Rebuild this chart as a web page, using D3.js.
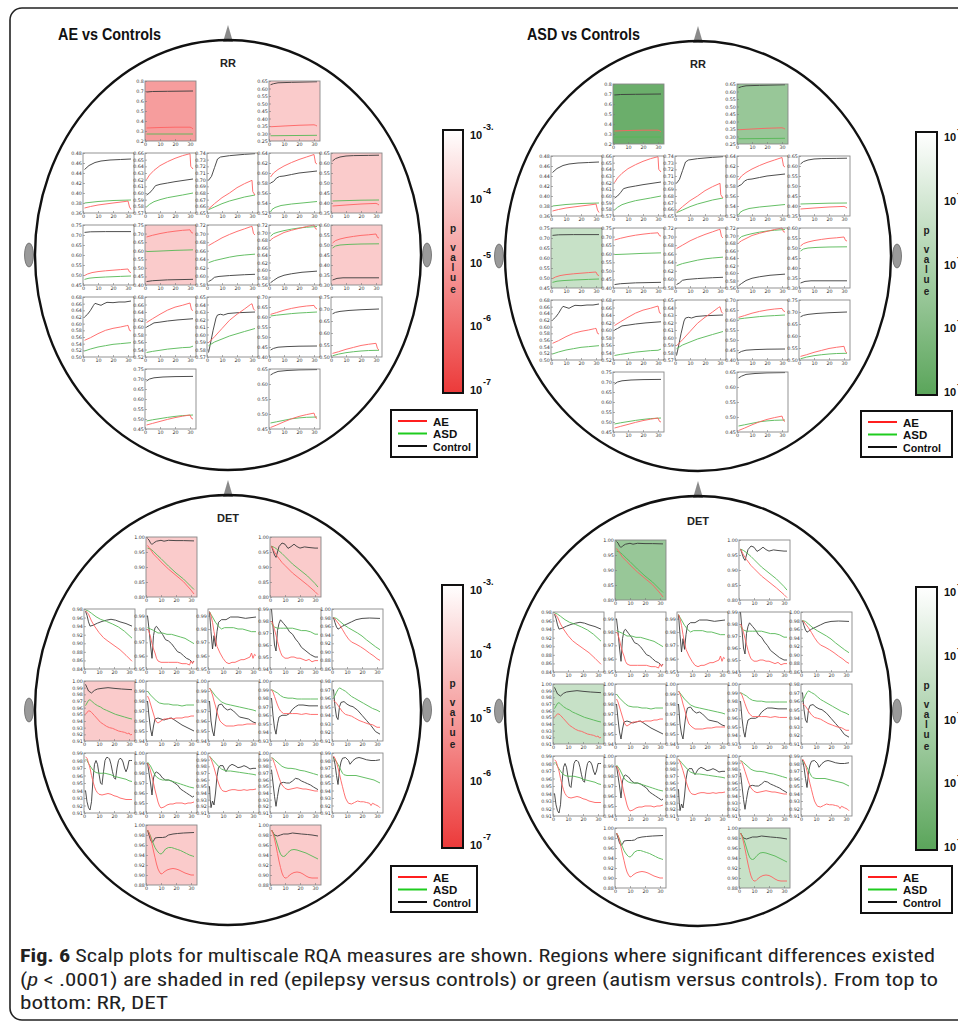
<!DOCTYPE html>
<html><head><meta charset="utf-8">
<script src="https://cdn.jsdelivr.net/npm/d3@7"></script>
<style>body{margin:0;background:#fff}svg{display:block}</style>
</head><body><svg id="c" width="958" height="1026"></svg>
<script>
// ---------------- DATA ----------------
const electrodes = ["Fp1","Fp2","F7","F3","Fz","F4","F8","T3","C3","Cz","C4","T4","T5","P3","Pz","P4","T6","O1","O2"];
const xTicks = [0,10,20,30];
const xDomain = [0,34];
const seriesNames = ["AE","ASD","Control"];
const cbarExponents = [-3,-4,-5,-6,-7];

// y domains [min,max,tickStep]
const rrDomains = [[0.2,0.8,0.1],[0.25,0.65,0.05],[0.36,0.48,0.02],[0.57,0.66,0.01],[0.65,0.74,0.01],[0.52,0.64,0.02],[0.35,0.65,0.05],
 [0.45,0.75,0.05],[0.40,0.75,0.05],[0.58,0.72,0.02],[0.56,0.72,0.02],[0.30,0.60,0.05],
 [0.50,0.68,0.02],[0.52,0.68,0.02],[0.57,0.65,0.01],[0.40,0.70,0.05],[0.50,0.75,0.05],[0.45,0.75,0.05],[0.45,0.65,0.05]];
const detDomains = [[0.80,1.00,0.05],[0.80,1.00,0.05],[0.84,0.98,0.02],[0.95,0.995,0.01],[0.95,0.995,0.01],[0.94,0.99,0.01],[0.86,1.00,0.02],
 [0.91,1.00,0.01],[0.94,1.00,0.01],[0.94,1.00,0.01],[0.93,1.00,0.01],[0.91,0.98,0.01],
 [0.91,0.99,0.01],[0.94,1.00,0.01],[0.91,1.00,0.01],[0.91,1.00,0.01],[0.91,0.99,0.01],[0.88,1.00,0.02],[0.88,1.00,0.02]];

const rrControl = [
 [[1,.69],[5,.695],[15,.697],[32,.70]],
 [[1,.625],[3,.632],[6,.638],[15,.641],[32,.645]],
 [[1,.447],[4,.455],[8,.461],[12,.464],[18,.466],[25,.467],[32,.468]],
 [[1,.597],[3,.600],[5,.605],[7,.611],[10,.613],[15,.615],[20,.617],[26,.619],[32,.621]],
 [[1,.699],[3,.705],[5,.718],[7,.731],[9,.734],[15,.736],[25,.738],[32,.739]],
 [[1,.580],[3,.583],[5,.590],[7,.593],[10,.594],[15,.597],[20,.600],[26,.602],[32,.604]],
 [[1,.610],[3,.622],[6,.630],[10,.635],[15,.637],[25,.638],[32,.639]],
 [[1,.713],[5,.716],[15,.717],[32,.717]],
 [[1,.420],[5,.425],[15,.430],[32,.433]],
 [[1,.588],[3,.592],[5,.598],[8,.600],[15,.602],[25,.604],[32,.605]],
 [[1,.566],[3,.572],[6,.580],[10,.586],[15,.590],[22,.594],[32,.597]],
 [[1,.325],[4,.333],[8,.336],[20,.336],[32,.336]],
 [[1,.620],[3,.628],[5,.640],[7,.655],[8,.661],[10,.658],[12,.655],[14,.660],[16,.664],[20,.663],[24,.665],[28,.665],[32,.668]],
 [[1,.600],[3,.604],[6,.611],[10,.613],[15,.616],[22,.619],[32,.622]],
 [[1,.576],[2,.585],[4,.605],[6,.622],[7,.626],[9,.627],[11,.626],[14,.628],[20,.629],[32,.630]],
 [[1,.435],[3,.443],[6,.449],[12,.452],[20,.454],[32,.455]],
 [[1,.680],[3,.686],[6,.690],[12,.694],[20,.697],[32,.700]],
 [[1,.690],[3,.700],[6,.706],[12,.710],[20,.712],[32,.713]],
 [[1,.630],[3,.636],[6,.642],[12,.645],[20,.647],[32,.648]]
];
const rrAE = [
 [[1,.33],[10,.335],[20,.338],[30,.338],[31,.333],[32,.32]],
 [[1,.345],[10,.350],[20,.355],[30,.358],[31,.355],[32,.350]],
 [[1,.370],[5,.373],[10,.376],[20,.380],[28,.383],[30,.384],[31,.372],[32,.367]],
 [[1,.620],[3,.627],[6,.634],[10,.641],[15,.647],[20,.652],[25,.656],[30,.659],[30.5,.640],[32,.636]],
 [[1,.656],[5,.664],[10,.673],[15,.680],[20,.688],[25,.694],[30,.699],[30.5,.682],[32,.677]],
 [[1,.592],[3,.600],[6,.607],[10,.614],[15,.621],[20,.627],[25,.632],[30,.637],[31,.620],[32,.618]],
 [[1,.385],[10,.390],[20,.395],[30,.398],[31,.395],[32,.390]],
 [[1,.497],[3,.505],[6,.512],[10,.517],[15,.521],[20,.524],[25,.527],[30,.530],[31,.515],[32,.512]],
 [[1,.680],[5,.690],[10,.700],[15,.708],[20,.714],[25,.719],[30,.722],[31,.705],[32,.703]],
 [[1,.672],[5,.680],[10,.690],[15,.698],[20,.705],[25,.711],[29,.716],[30,.717],[31,.700],[32,.697]],
 [[1,.680],[3,.686],[6,.692],[10,.700],[15,.706],[20,.711],[25,.716],[29,.719],[30,.720],[31,.710],[32,.709]],
 [[1,.510],[3,.522],[6,.530],[10,.537],[15,.543],[20,.548],[25,.551],[30,.555],[31,.538],[32,.535]],
 [[1,.550],[5,.558],[10,.570],[15,.580],[20,.586],[25,.590],[29,.594],[30,.595],[31,.580],[32,.578]],
 [[1,.612],[5,.622],[10,.634],[15,.645],[20,.653],[25,.658],[30,.664],[31,.646],[32,.644]],
 [[1,.589],[5,.597],[10,.608],[15,.619],[20,.627],[25,.634],[29,.640],[30,.641],[31,.634],[32,.632]],
 [[1,.613],[5,.622],[10,.634],[15,.643],[20,.650],[25,.655],[30,.658],[31,.645],[32,.642]],
 [[1,.515],[5,.522],[10,.532],[15,.540],[20,.548],[25,.553],[30,.557],[31,.535],[32,.530]],
 [[1,.470],[5,.478],[10,.488],[15,.498],[20,.507],[25,.514],[30,.520],[31,.503],[32,.500]],
 [[1,.455],[5,.463],[10,.474],[15,.484],[20,.492],[25,.498],[30,.503],[31,.488],[32,.485]]
];
const rrASD = [
 [[1,.27],[32,.27]],
 [[1,.285],[32,.288]],
 [[1,.380],[10,.383],[20,.385],[32,.386]],
 [[1,.579],[3,.583],[6,.587],[10,.590],[15,.593],[20,.595],[25,.597],[32,.600]],
 [[1,.655],[5,.659],[10,.664],[15,.668],[20,.671],[25,.674],[32,.677]],
 [[1,.522],[2,.527],[4,.531],[8,.535],[15,.538],[22,.540],[32,.543]],
 [[1,.410],[10,.412],[20,.414],[32,.415]],
 [[1,.478],[4,.484],[8,.487],[15,.490],[25,.493],[32,.495]],
 [[1,.595],[10,.598],[20,.602],[32,.605]],
 [[1,.632],[5,.637],[10,.641],[15,.645],[20,.648],[25,.650],[32,.652]],
 [[1,.690],[3,.697],[6,.701],[10,.705],[15,.709],[20,.712],[25,.714],[32,.716]],
 [[1,.485],[3,.495],[6,.500],[12,.503],[20,.505],[32,.506]],
 [[1,.518],[5,.524],[10,.530],[15,.534],[20,.538],[25,.540],[32,.543]],
 [[1,.532],[5,.535],[10,.538],[15,.541],[20,.543],[25,.545],[30,.546],[32,.549]],
 [[1,.585],[5,.590],[10,.594],[15,.598],[20,.601],[25,.604],[32,.608]],
 [[1,.605],[5,.609],[10,.613],[15,.617],[20,.620],[25,.622],[32,.625]],
 [[1,.505],[5,.512],[10,.518],[15,.522],[20,.525],[25,.527],[32,.528]],
 [[1,.490],[5,.496],[10,.502],[15,.508],[20,.513],[25,.517],[32,.520]],
 [[1,.470],[5,.474],[10,.479],[15,.484],[20,.487],[25,.489],[32,.490]]
];

const detControl = [
 [[1,.995],[2,.99],[3,.98],[4,.975],[5,.98],[7,.986],[10,.989],[12,.986],[15,.989],[20,.988],[25,.988],[32,.987]],
 [[1,.97],[2,.955],[3,.94],[4,.932],[5,.95],[6,.968],[8,.98],[10,.976],[12,.962],[14,.968],[16,.976],[18,.968],[20,.963],[23,.967],[26,.965],[30,.963],[32,.963]],
 [[1,.975],[2,.965],[3,.95],[4,.940],[6,.942],[9,.947],[12,.951],[15,.954],[18,.956],[21,.954],[24,.950],[28,.946],[32,.940]],
 [[1,.99],[2,.98],[3,.968],[4,.958],[5,.975],[6,.981],[7,.982],[9,.979],[11,.976],[13,.972],[15,.971],[17,.969],[19,.966],[21,.963],[23,.962],[25,.960],[27,.958],[29,.957],[31,.955],[32,.956]],
 [[1,.993],[2,.978],[3,.965],[4,.975],[5,.967],[6,.978],[7,.985],[9,.987],[12,.987],[15,.989],[20,.989],[25,.988],[32,.989]],
 [[1,.99],[2,.975],[3,.96],[4,.955],[5,.972],[6,.978],[7,.981],[9,.978],[11,.975],[13,.971],[15,.969],[17,.965],[19,.962],[21,.958],[24,.955],[27,.952],[30,.950],[32,.950]],
 [[1,.980],[2,.968],[3,.958],[4,.953],[5,.955],[7,.960],[10,.965],[13,.970],[16,.975],[20,.978],[25,.979],[32,.978]],
 [[1,.995],[2,.99],[3,.985],[5,.982],[7,.986],[9,.988],[12,.989],[16,.990],[20,.989],[25,.988],[32,.987]],
 [[1,.98],[2,.965],[3,.952],[4,.945],[5,.955],[6,.962],[8,.963],[10,.962],[12,.961],[14,.962],[17,.963],[20,.960],[24,.956],[28,.953],[32,.950]],
 [[1,.98],[2,.96],[3,.95],[4,.945],[5,.958],[6,.970],[7,.976],[9,.977],[11,.973],[13,.971],[15,.972],[17,.970],[19,.967],[21,.964],[24,.963],[27,.962],[30,.959],[32,.958]],
 [[1,.98],[2,.96],[3,.945],[4,.938],[5,.950],[6,.958],[8,.960],[11,.960],[13,.962],[15,.967],[17,.970],[19,.972],[22,.972],[26,.971],[32,.971]],
 [[1,.97],[2,.95],[3,.938],[4,.935],[5,.950],[6,.955],[8,.956],[10,.953],[12,.951],[14,.950],[17,.946],[20,.940],[23,.934],[26,.928],[29,.921],[32,.918]],
 [[1,.94],[2,.925],[3,.917],[4,.914],[5,.925],[6,.955],[7,.975],[8,.980],[9,.975],[10,.962],[11,.950],[12,.948],[13,.965],[14,.980],[15,.984],[16,.984],[17,.982],[18,.975],[19,.965],[20,.957],[21,.955],[22,.970],[23,.980],[24,.983],[25,.982],[26,.978],[27,.970],[28,.965],[29,.970],[30,.980],[31,.98],[32,.98]],
 [[1,.99],[2,.98],[3,.97],[4,.958],[5,.975],[6,.980],[7,.981],[9,.979],[11,.975],[13,.973],[15,.973],[17,.972],[19,.970],[21,.968],[23,.964],[25,.962],[27,.960],[29,.958],[31,.956],[32,.957]],
 [[1,.95],[1.5,.93],[2,.918],[3,.928],[4,.922],[5,.94],[6,.965],[7,.978],[8,.981],[10,.981],[11,.976],[12,.972],[13,.976],[14,.98],[16,.983],[18,.981],[20,.978],[22,.979],[24,.981],[26,.979],[28,.976],[30,.977],[32,.977]],
 [[1,.975],[2,.955],[3,.935],[4,.92],[5,.935],[6,.948],[7,.955],[9,.956],[11,.955],[13,.955],[15,.958],[17,.962],[19,.961],[21,.958],[23,.956],[25,.954],[27,.952],[29,.949],[32,.945]],
 [[1,.985],[2,.975],[3,.96],[4,.948],[5,.968],[6,.978],[7,.983],[9,.984],[11,.980],[12,.975],[14,.980],[16,.983],[18,.984],[20,.983],[23,.981],[26,.980],[29,.980],[32,.981]],
 [[1,.99],[2,.98],[3,.97],[4,.965],[5,.968],[6,.974],[8,.975],[11,.975],[13,.976],[15,.980],[18,.982],[21,.983],[25,.984],[32,.985]],
 [[1,.99],[2,.985],[3,.98],[5,.978],[7,.980],[9,.982],[12,.982],[15,.984],[18,.983],[21,.982],[25,.981],[28,.980],[32,.978]]
];
const detAE = [
 [[1,.972],[3,.958],[5,.943],[8,.928],[10,.917],[15,.893],[20,.872],[25,.851],[30,.823],[32,.81]],
 [[1,.97],[3,.95],[5,.935],[8,.915],[10,.905],[15,.88],[20,.86],[25,.84],[30,.818],[32,.808]],
 [[1,.976],[3,.968],[5,.952],[7,.94],[10,.925],[13,.913],[16,.905],[20,.895],[24,.885],[28,.872],[32,.858]],
 [[1,.98],[2,.978],[3,.974],[4,.969],[5,.965],[6,.962],[7,.958],[8,.956],[10,.955],[12,.955],[15,.955],[18,.955],[21,.955],[24,.954],[27,.954],[29,.953],[30,.956],[31,.954],[32,.956]],
 [[1,.993],[2,.99],[3,.985],[4,.978],[5,.972],[6,.967],[8,.962],[10,.958],[12,.955],[14,.954],[16,.955],[18,.955],[20,.956],[22,.957],[24,.957],[26,.958],[28,.959],[29,.962],[30,.958],[31,.961],[32,.96]],
 [[1,.98],[2,.977],[3,.973],[4,.968],[5,.963],[6,.958],[7,.954],[8,.951],[10,.949],[12,.949],[14,.950],[16,.950],[18,.949],[20,.949],[22,.948],[24,.947],[26,.948],[28,.946],[30,.947],[32,.947]],
 [[1,.98],[2,.977],[3,.972],[5,.963],[7,.952],[9,.940],[11,.930],[13,.923],[16,.918],[19,.912],[22,.905],[25,.897],[28,.890],[30,.884],[32,.880]],
 [[1,.950],[2,.953],[3,.955],[4,.955],[5,.953],[7,.948],[9,.943],[11,.938],[13,.935],[15,.932],[17,.930],[19,.929],[21,.927],[23,.925],[25,.924],[27,.923],[29,.921],[30,.922],[31,.919],[32,.920]],
 [[1,.985],[2,.982],[3,.977],[4,.972],[5,.967],[6,.962],[7,.959],[8,.958],[10,.960],[12,.962],[14,.962],[16,.963],[18,.962],[20,.963],[22,.963],[24,.963],[26,.964],[28,.964],[30,.965],[32,.965]],
 [[1,.993],[2,.99],[3,.986],[4,.98],[5,.975],[6,.969],[7,.964],[8,.960],[10,.957],[12,.955],[14,.955],[17,.955],[20,.956],[23,.956],[26,.957],[29,.957],[32,.957]],
 [[1,.99],[2,.987],[3,.982],[4,.977],[5,.972],[6,.968],[7,.965],[9,.962],[12,.962],[15,.962],[18,.962],[21,.961],[24,.962],[27,.961],[30,.961],[32,.961]],
 [[1,.957],[2,.956],[3,.954],[5,.949],[7,.944],[9,.941],[11,.940],[13,.939],[15,.937],[18,.934],[21,.932],[24,.930],[27,.929],[30,.926],[32,.926]],
 [[1,.985],[2,.983],[3,.977],[4,.970],[5,.960],[6,.952],[7,.945],[8,.940],[9,.937],[10,.935],[12,.934],[14,.935],[16,.936],[18,.935],[20,.933],[22,.932],[24,.930],[26,.929],[28,.928],[30,.928],[32,.928]],
 [[1,.99],[2,.987],[3,.982],[4,.976],[5,.970],[6,.963],[7,.957],[8,.951],[9,.947],[10,.945],[12,.946],[14,.948],[16,.949],[18,.949],[20,.950],[22,.950],[24,.950],[26,.949],[28,.950],[30,.950],[32,.951]],
 [[1,.995],[2,.991],[3,.985],[4,.978],[5,.970],[6,.962],[7,.955],[8,.949],[9,.945],[10,.943],[12,.942],[14,.944],[16,.945],[18,.945],[20,.944],[22,.944],[24,.945],[26,.944],[28,.945],[30,.945],[32,.946]],
 [[1,.993],[2,.99],[3,.984],[4,.977],[5,.970],[6,.963],[7,.957],[8,.952],[10,.947],[12,.945],[14,.946],[16,.947],[18,.948],[20,.947],[22,.946],[24,.946],[26,.945],[28,.944],[30,.943],[32,.943]],
 [[1,.986],[2,.983],[3,.978],[4,.970],[5,.962],[6,.953],[7,.945],[8,.937],[9,.930],[10,.926],[11,.923],[13,.922],[15,.924],[17,.926],[19,.925],[21,.925],[23,.924],[25,.923],[26,.920],[27,.923],[29,.921],[31,.919],[32,.917]],
 [[1,.99],[2,.985],[3,.975],[4,.962],[5,.948],[6,.935],[7,.922],[8,.912],[9,.906],[10,.902],[11,.903],[12,.906],[14,.910],[16,.912],[18,.913],[20,.912],[22,.910],[24,.907],[26,.904],[28,.902],[30,.900],[32,.900]],
 [[1,.99],[2,.983],[3,.972],[4,.958],[5,.943],[6,.928],[7,.915],[8,.904],[9,.897],[10,.894],[11,.894],[12,.897],[14,.902],[16,.905],[18,.906],[20,.905],[22,.902],[24,.898],[26,.895],[28,.894],[30,.894],[32,.894]]
];
const detASD = [
 [[1,.963],[3,.96],[5,.952],[8,.937],[10,.928],[15,.903],[20,.880],[25,.860],[30,.835],[32,.825]],
 [[1,.97],[3,.965],[5,.958],[8,.945],[10,.935],[15,.91],[20,.89],[25,.87],[30,.845],[32,.833]],
 [[1,.978],[3,.975],[5,.970],[8,.962],[11,.956],[15,.951],[19,.945],[23,.938],[27,.928],[32,.912]],
 [[1,.981],[3,.980],[5,.979],[8,.977],[11,.977],[14,.976],[17,.976],[20,.975],[23,.974],[26,.973],[29,.971],[32,.969]],
 [[1,.993],[2,.991],[3,.989],[5,.985],[7,.982],[9,.980],[11,.981],[14,.981],[17,.981],[20,.980],[23,.980],[26,.979],[29,.978],[32,.978]],
 [[1,.978],[2,.976],[3,.975],[5,.974],[7,.974],[9,.974],[12,.974],[15,.974],[18,.973],[21,.972],[24,.972],[27,.971],[30,.969],[32,.969]],
 [[1,.98],[3,.978],[5,.972],[8,.963],[11,.956],[14,.950],[17,.944],[20,.937],[23,.928],[26,.920],[29,.912],[32,.905]],
 [[1,.963],[2,.967],[3,.971],[4,.972],[5,.970],[7,.966],[9,.963],[11,.961],[13,.958],[15,.956],[18,.953],[21,.950],[24,.948],[27,.946],[30,.944],[32,.943]],
 [[1,.99],[2,.988],[3,.986],[5,.983],[7,.980],[9,.978],[12,.977],[15,.977],[18,.976],[21,.976],[24,.975],[27,.976],[30,.976],[32,.976]],
 [[1,.993],[2,.991],[3,.989],[5,.985],[7,.982],[9,.979],[12,.977],[15,.976],[18,.975],[21,.974],[24,.973],[27,.972],[30,.971],[32,.970]],
 [[1,.99],[2,.989],[3,.988],[5,.986],[7,.983],[9,.981],[12,.980],[15,.980],[18,.979],[21,.979],[24,.979],[27,.979],[30,.979],[32,.979]],
 [[1,.96],[2,.963],[3,.967],[4,.970],[5,.972],[7,.970],[9,.968],[11,.965],[13,.962],[15,.960],[18,.957],[21,.954],[24,.951],[27,.948],[30,.946],[32,.944]],
 [[1,.982],[2,.980],[3,.976],[4,.973],[5,.970],[6,.967],[8,.964],[10,.963],[12,.963],[14,.963],[16,.962],[18,.961],[20,.959],[22,.958],[24,.957],[26,.956],[28,.955],[30,.953],[32,.952]],
 [[1,.991],[2,.989],[3,.987],[4,.984],[5,.981],[6,.978],[7,.976],[9,.974],[11,.973],[13,.973],[15,.973],[17,.972],[19,.971],[21,.970],[23,.969],[25,.968],[27,.967],[29,.966],[32,.965]],
 [[1,.995],[2,.993],[3,.990],[5,.985],[7,.980],[9,.976],[11,.974],[13,.973],[15,.973],[18,.972],[21,.971],[24,.970],[27,.969],[30,.968],[32,.967]],
 [[1,.993],[2,.992],[3,.990],[4,.988],[6,.984],[8,.980],[10,.978],[12,.977],[14,.977],[17,.976],[20,.974],[23,.973],[26,.971],[29,.969],[32,.967]],
 [[1,.983],[2,.981],[3,.978],[4,.975],[5,.971],[6,.967],[7,.963],[8,.961],[10,.960],[12,.960],[14,.960],[16,.960],[18,.959],[20,.958],[22,.957],[24,.956],[26,.955],[28,.954],[30,.952],[32,.950]],
 [[1,.99],[2,.985],[3,.978],[4,.970],[5,.962],[6,.955],[7,.950],[8,.946],[9,.943],[10,.942],[11,.944],[12,.948],[13,.952],[15,.955],[17,.955],[19,.953],[21,.951],[23,.949],[25,.946],[27,.943],[29,.940],[31,.938],[32,.937]],
 [[1,.99],[2,.985],[3,.978],[4,.970],[5,.960],[6,.950],[7,.942],[8,.938],[9,.937],[10,.938],[12,.945],[14,.950],[16,.951],[18,.950],[20,.948],[22,.946],[24,.944],[26,.941],[28,.938],[30,.935],[32,.932]]
];

// log10 p-values of shaded (significant) electrodes; null = not significant
const aeRRlogP  = [-5.0,-4.05,null,null,null,null,-4.05,null,-4.05,null,null,-4.05,null,null,null,null,null,null,null];
const asdRRlogP = [-6.6,-5.5,null,null,null,null,null,-4.35,null,null,null,null,null,null,null,null,null,null,null];
const aeDETlogP = [-4.05,-4.05,null,null,null,null,null,-4.05,null,null,null,null,null,null,null,null,null,-4.05,-4.05];
const asdDETlogP= [-5.5,null,null,null,null,null,null,-4.35,null,null,null,null,null,null,null,null,null,null,-4.35];

// ---------------- DRAW ----------------
const svg = d3.select("#c");
svg.append("rect").attr("width",958).attr("height",1026).attr("fill","#fff");
svg.append("rect").attr("x",10).attr("y",8).attr("width",1010).attr("height",1012).attr("rx",12)
  .attr("fill","none").attr("stroke","#222").attr("stroke-width",1.6);

const lineColors = {AE:"#ff6161", ASD:"#55b855", Control:"#3a3a3a"};
const legendColors = {AE:"#ff1f1f", ASD:"#1fcc1f", Control:"#111"};
const cellW=51, cellH=60, colStep=62, rowStep=72;
const rowsDef = [[1,3],[0,1,2,3,4],[0,1,2,3,4],[0,1,2,3,4],[1,3]];
const slots = rowsDef.flatMap((cols,r)=>cols.map(c=>[r,c]));

const redMap = d3.interpolateRgb("#ffffff","#ec3a3a");
const greenMap = d3.interpolateRgb("#ffffff","#5aa55a");
const tOf = lp => (-3 - lp)/4;
const sans = "Liberation Sans, Arial, sans-serif";

const panels = [
 {title:"AE vs Controls", tx:58, tl:103, cx:228, cy:255, gx:83, gy:81, label:"RR", ly:67,
  ctrl:rrControl, ae:rrAE, asd:rrASD, dom:rrDomains, logp:aeRRlogP, cmap:redMap, bar:[443,130,20,263], leg:[391,410,86,47]},
 {title:"ASD vs Controls", tx:527, tl:113, cx:698, cy:256, gx:551, gy:84, label:"RR", ly:68,
  ctrl:rrControl, ae:rrAE, asd:rrASD, dom:rrDomains, logp:asdRRlogP, cmap:greenMap, bar:[916,132,21,263], leg:[861,411,91,46]},
 {title:null, cx:228, cy:710, gx:84, gy:537, label:"DET", ly:522,
  ctrl:detControl, ae:detAE, asd:detASD, dom:detDomains, logp:aeDETlogP, cmap:redMap, bar:[442,585,21,263], leg:[391,866,86,46]},
 {title:null, cx:698, cy:711, gx:553, gy:540, label:"DET", ly:525,
  ctrl:detControl, ae:detAE, asd:detASD, dom:detDomains, logp:asdDETlogP, cmap:greenMap, bar:[916,587,21,263], leg:[861,866,91,47]}
];

function ticksFor(min,max,step){const out=[];for(let k=Math.round(min/step);k*step<=max+1e-9;k++)out.push(+(k*step).toFixed(4));return out;}

panels.forEach((P,pi)=>{
  const g = svg.append("g");
  if (P.title) g.append("text").attr("x",P.tx).attr("y",40).attr("font-family",sans)
     .attr("font-weight","bold").attr("font-size",16).attr("fill","#111")
     .attr("textLength",P.tl).attr("lengthAdjust","spacingAndGlyphs").text(P.title);
  const rx=193, ry=215, top=P.cy-ry;
  g.append("path").attr("d",`M${P.cx-5},${top+2}L${P.cx},${top-15}L${P.cx+5},${top+2}Z`).attr("fill","#8a8a8a");
  [-1,1].forEach(s=>g.append("ellipse").attr("cx",P.cx+s*199).attr("cy",P.cy).attr("rx",4.5).attr("ry",12)
     .attr("fill","#9a9a9a").attr("stroke","#666").attr("stroke-width",0.8));
  g.append("ellipse").attr("cx",P.cx).attr("cy",P.cy).attr("rx",rx).attr("ry",ry)
     .attr("fill","none").attr("stroke","#111").attr("stroke-width",2.4);
  g.append("text").attr("x",P.cx).attr("y",P.ly).attr("text-anchor","middle").attr("font-family",sans)
     .attr("font-weight","bold").attr("font-size",11).attr("fill","#222").text(P.label);

  electrodes.forEach((el,i)=>{
    const [r,c]=slots[i];
    const x0=P.gx+c*colStep, y0=P.gy+r*rowStep;
    const [mn,mx,st]=P.dom[i];
    const x=d3.scaleLinear().domain(xDomain).range([0,cellW]);
    const y=d3.scaleLinear().domain([mn,mx]).range([cellH,0]);
    const mg=g.append("g").attr("transform",`translate(${x0},${y0})`);
    const lp=P.logp[i];
    mg.append("rect").attr("width",cellW).attr("height",cellH).attr("fill", lp==null ? "#fff" : P.cmap(tOf(lp)));
    const fmt=d3.format(st>=0.1?".1f":".2f");
    const ya=mg.append("g").call(d3.axisLeft(y).tickValues(ticksFor(mn,mx,st)).tickFormat(fmt).tickSize(-2).tickPadding(1.2));
    const xa=mg.append("g").attr("transform",`translate(0,${cellH})`).call(d3.axisBottom(x).tickValues(xTicks).tickSize(-2).tickPadding(1.2));
    [ya,xa].forEach(a=>{a.select(".domain").remove();
      a.selectAll("text").attr("font-family","DejaVu Sans, sans-serif").attr("font-size",4.8).attr("fill","#333");
      a.selectAll("line").attr("stroke","#777").attr("stroke-width",0.6);});
    const line=d3.line().x(d=>x(d[0])).y(d=>y(d[1]));
    [["Control",P.ctrl],["ASD",P.asd],["AE",P.ae]].forEach(([nm,arr])=>{
      mg.append("path").attr("d",line(arr[i])).attr("fill","none").attr("stroke",lineColors[nm]).attr("stroke-width",0.9);
    });
    mg.append("rect").attr("width",cellW).attr("height",cellH).attr("fill","none").attr("stroke","#888").attr("stroke-width",0.9);
  });

  // colorbar
  const [bx,by,bw,bh]=P.bar;
  const gid="grad"+pi;
  const grad=svg.append("defs").append("linearGradient").attr("id",gid).attr("x1",0).attr("y1",0).attr("x2",0).attr("y2",1);
  d3.range(0,1.0001,0.1).forEach(t=>grad.append("stop").attr("offset",t).attr("stop-color",P.cmap(t)));
  g.append("rect").attr("x",bx).attr("y",by).attr("width",bw).attr("height",bh).attr("fill",`url(#${gid})`)
     .attr("stroke","#111").attr("stroke-width",2);
  const cs=d3.scaleLinear().domain([-3,-7]).range([by+5,by+bh-3]);
  cbarExponents.forEach(e=>{
    const yy=cs(e);
    g.append("text").attr("x",bx+bw+7).attr("y",yy+4).attr("font-family",sans)
      .attr("font-weight","bold").attr("font-size",11).attr("fill","#111").text("10");
    g.append("text").attr("x",bx+bw+20).attr("y",yy-5).attr("font-family",sans)
      .attr("font-weight","bold").attr("font-size",9).attr("fill","#111").text(e===-3? e+".": String(e));
  });
  const letters=[["p",98],["v",117],["a",127],["l",137],["u",147],["e",159]];
  letters.forEach(([ch,off])=>g.append("text").attr("x",bx+bw/2).attr("y",by+off+3.5).attr("text-anchor","middle")
     .attr("font-family",sans).attr("font-weight","bold").attr("font-size",10).attr("fill","#222").text(ch));

  // legend
  const [lx,ly,lw,lh]=P.leg;
  g.append("rect").attr("x",lx).attr("y",ly).attr("width",lw).attr("height",lh).attr("fill","#fff").attr("stroke","#111").attr("stroke-width",2);
  seriesNames.forEach((nm,k)=>{
    const yy=ly+11+k*12.5;
    g.append("line").attr("x1",lx+7).attr("x2",lx+36).attr("y1",yy).attr("y2",yy).attr("stroke",legendColors[nm]).attr("stroke-width",2);
    const t=g.append("text").attr("x",lx+42).attr("y",yy+4.5).attr("font-family",sans)
      .attr("font-weight","bold").attr("font-size",11.5).attr("fill","#111").text(nm);
    if (nm==="Control") t.attr("textLength",38).attr("lengthAdjust","spacingAndGlyphs");
  });
});

// caption
const capFont="Liberation Sans Narrow, Roboto Condensed, Arial Narrow, Liberation Sans, sans-serif";
const cap=svg.append("g").attr("font-family",capFont).attr("font-size",17.5).attr("fill","#222");
const l1=cap.append("text").attr("x",20).attr("y",962).attr("textLength",915).attr("lengthAdjust","spacingAndGlyphs");
l1.append("tspan").attr("font-weight","bold").text("Fig. 6");
l1.append("tspan").text(" Scalp plots for multiscale RQA measures are shown. Regions where significant differences existed");
const l2=cap.append("text").attr("x",20).attr("y",986).attr("textLength",918).attr("lengthAdjust","spacingAndGlyphs");
l2.append("tspan").text("(");
l2.append("tspan").attr("font-style","italic").text("p");
l2.append("tspan").text(" < .0001) are shaded in red (epilepsy versus controls) or green (autism versus controls). From top to");
cap.append("text").attr("x",20).attr("y",1009).attr("textLength",148).attr("lengthAdjust","spacingAndGlyphs").text("bottom: RR, DET");
</script></body></html>
